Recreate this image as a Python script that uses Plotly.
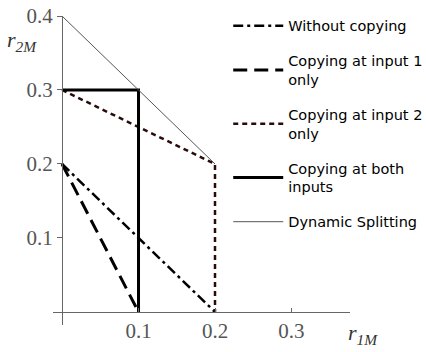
import plotly.graph_objects as go

# Data (r_1M, r_2M) for each scheme
without_x = [0.0, 0.1, 0.2]
without_y = [0.2, 0.1, 0.0]

input1_x = [0.0, 0.1]
input1_y = [0.2, 0.0]

input2_x = [0.0, 0.2, 0.2]
input2_y = [0.3, 0.2, 0.0]

both_x = [0.0, 0.1, 0.1]
both_y = [0.3, 0.3, 0.0]

dyn_x = [0.0, 0.1, 0.2]
dyn_y = [0.4, 0.3, 0.2]

x_ticks = [0.1, 0.2, 0.3]
x_ticktext = ["0.1", "0.2", "0.3"]
y_ticks = [0.1, 0.2, 0.3, 0.4]
y_ticktext = ["0.1", "0.2", "0.3", "0.4"]

fig = go.Figure()
fig.add_trace(go.Scatter(x=without_x, y=without_y, mode="lines", name="Without copying",
                         legendgroup="a",
                         line=dict(color="black", width=2.5, dash="10px,4px,3px,4px")))
fig.add_trace(go.Scatter(x=input1_x, y=input1_y, mode="lines", name="Copying at input 1<br>only",
                         legendgroup="b",
                         line=dict(color="black", width=3, dash="14px,7px")))
fig.add_trace(go.Scatter(x=input2_x, y=input2_y, mode="lines", name="Copying at input 2<br>only",
                         legendgroup="c",
                         line=dict(color="#2a0a0a", width=2.5, dash="5px,4px")))
fig.add_trace(go.Scatter(x=both_x, y=both_y, mode="lines", name="Copying at both<br>inputs",
                         legendgroup="d",
                         line=dict(color="black", width=3)))
fig.add_trace(go.Scatter(x=dyn_x, y=dyn_y, mode="lines", name="Dynamic Splitting",
                         legendgroup="e",
                         line=dict(color="#555555", width=1)))

tickfont = dict(family="Liberation Serif, DejaVu Serif, serif", size=21, color="#555555")

fig.update_layout(
    width=426, height=352,
    margin=dict(l=53, r=76, t=16, b=27, autoexpand=False),
    paper_bgcolor="white", plot_bgcolor="white",
    showlegend=True,
    legend=dict(x=0.59, y=1.02, xanchor="left", yanchor="top",
                bgcolor="rgba(0,0,0,0)", maxheight=1,
                font=dict(family="DejaVu Sans, sans-serif", size=14.5, color="black"),
                traceorder="grouped", tracegroupgap=13, itemwidth=50),
    xaxis=dict(range=[-0.0118, 0.3765], anchor="free", position=0.042, automargin=False,
               showgrid=False, zeroline=False, showline=True, linecolor="#666666", linewidth=1,
               tickvals=x_ticks, ticktext=x_ticktext, ticks="inside", ticklen=4,
               tickcolor="#666666", tickfont=tickfont),
    yaxis=dict(range=[-0.0176, 0.4], anchor="free", position=0.0303, automargin=False,
               showgrid=False, zeroline=False, showline=True, linecolor="#666666", linewidth=1,
               tickvals=y_ticks, ticktext=y_ticktext, ticks="outside", ticklen=5,
               tickcolor="#666666", tickfont=tickfont),
    annotations=[
        dict(text="<i>r</i><sub><i>2M</i></sub>", xref="paper", yref="paper",
             x=-0.105, y=0.92, xanchor="center", yanchor="middle", showarrow=False,
             font=dict(family="Liberation Serif, DejaVu Serif, serif", size=22, color="#333333")),
        dict(text="<i>r</i><sub><i>1M</i></sub>", xref="paper", yref="paper",
             x=1.044, y=-0.03, xanchor="center", yanchor="middle", showarrow=False,
             font=dict(family="Liberation Serif, DejaVu Serif, serif", size=22, color="#333333")),
    ],
)

fig.write_html("out.html",
               config={"displayModeBar": False},
               post_script="document.body.style.margin='0';document.body.style.overflow='hidden';")
